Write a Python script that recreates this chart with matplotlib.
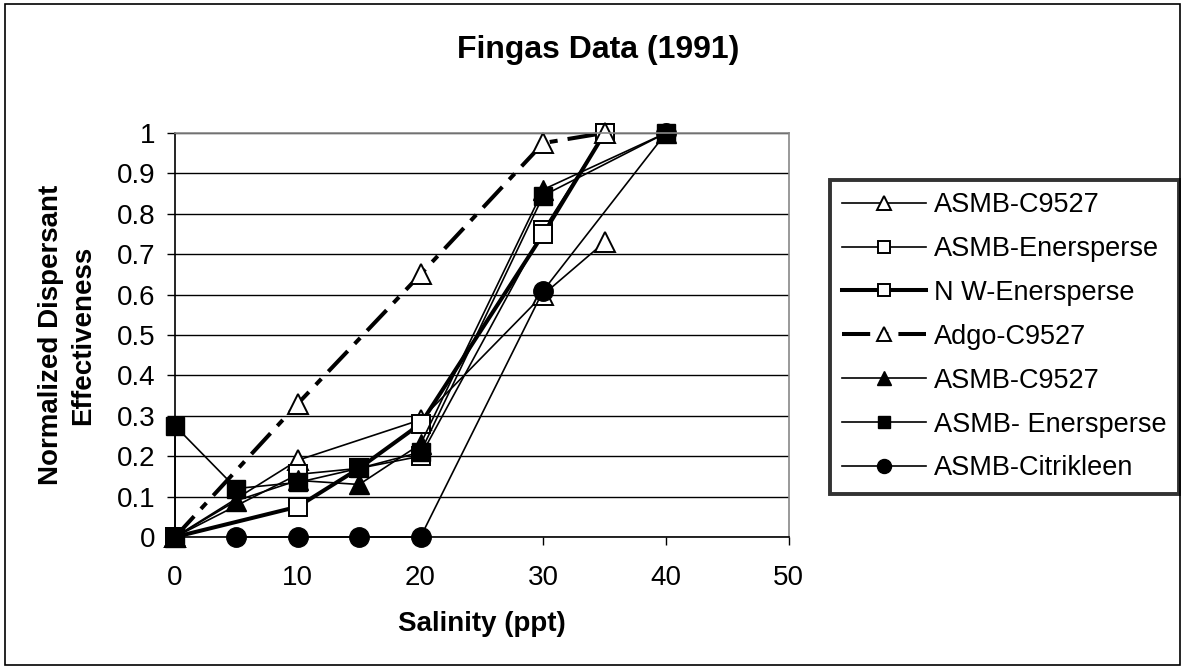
import matplotlib
matplotlib.use("Agg")
import matplotlib.pyplot as plt
from matplotlib.patches import Rectangle

plt.rcParams['font.family'] = ['Liberation Sans', 'DejaVu Sans']

# salinity (ppt) and normalized effectiveness, one list pair per series
x_asmb_c9527 = [0, 10, 20, 30, 35]
y_asmb_c9527 = [0, 0.19, 0.29, 0.60, 0.73]

x_asmb_ener = [0, 10, 15, 20, 30, 35]
y_asmb_ener = [0, 0.155, 0.17, 0.20, 0.76, 1.0]

x_nw_ener = [0, 10, 15, 20, 30, 35]
y_nw_ener = [0, 0.075, 0.17, 0.28, 0.75, 1.0]

x_adgo = [0, 10, 20, 30, 35]
y_adgo = [0, 0.33, 0.65, 0.975, 1.0]

x_asmb_c9527_b = [0, 5, 10, 15, 20, 30, 40]
y_asmb_c9527_b = [0, 0.09, 0.14, 0.13, 0.23, 0.86, 1.0]

x_asmb_ener_b = [0, 0, 5, 10, 15, 20, 30, 40]
y_asmb_ener_b = [0, 0.275, 0.12, 0.135, 0.17, 0.21, 0.845, 1.0]

x_citri = [5, 10, 15, 20, 30, 40]
y_citri = [0, 0, 0, 0, 0.61, 1.0]

labels = ['ASMB-C9527', 'ASMB-Enersperse', 'N W-Enersperse', 'Adgo-C9527',
          'ASMB-C9527', 'ASMB- Enersperse', 'ASMB-Citrikleen']
x_ticks = [0, 10, 20, 30, 40, 50]
y_ticks = [0, 0.1, 0.2, 0.3, 0.4, 0.5, 0.6, 0.7, 0.8, 0.9, 1]
y_tick_labels = ['0', '0.1', '0.2', '0.3', '0.4', '0.5', '0.6', '0.7', '0.8', '0.9', '1']

fig = plt.figure(figsize=(11.85, 6.69), dpi=100)
ax = fig.add_axes([0.1477, 0.1973, 0.518, 0.604])

ms_tri = 14.5
ms_sq = 12.5
ms_dot = 14
thin = 1.2
thick = 2.9
l1, = ax.plot(x_asmb_c9527, y_asmb_c9527, color='black', lw=thin, marker='^',
              mfc='white', mec='black', mew=1.4, ms=ms_tri, clip_on=False)
l2, = ax.plot(x_asmb_ener, y_asmb_ener, color='black', lw=thin, marker='s',
              mfc='white', mec='black', mew=1.4, ms=ms_sq, clip_on=False)
l3, = ax.plot(x_nw_ener, y_nw_ener, color='black', lw=thick, marker='s',
              mfc='white', mec='black', mew=1.4, ms=ms_sq, clip_on=False)
l4, = ax.plot(x_adgo, y_adgo, color='black', lw=thick, marker='^',
              mfc='white', mec='black', mew=1.4, ms=ms_tri, clip_on=False,
              dashes=(7, 2.5, 2, 2.5))
l5, = ax.plot(x_asmb_c9527_b, y_asmb_c9527_b, color='black', lw=thin, marker='^',
              mfc='black', mec='black', ms=ms_tri, clip_on=False)
l7, = ax.plot(x_citri, y_citri, color='black', lw=thin, marker='o',
              mfc='black', mec='black', ms=ms_dot, clip_on=False)
# filled squares sit on top of the other markers
l6, = ax.plot(x_asmb_ener_b, y_asmb_ener_b, color='black', lw=thin, marker='s',
              mfc='black', mec='black', ms=ms_sq, clip_on=False)

ax.set_xlim(0, 50)
ax.set_ylim(0, 1)
ax.set_xticks(x_ticks)
ax.set_yticks(y_ticks)
ax.set_yticklabels(y_tick_labels)
ax.tick_params(axis='both', labelsize=20, direction='out', length=6,
               width=1, colors='black')
ax.tick_params(axis='x', pad=14)
ax.tick_params(axis='y', pad=8)
ax.yaxis.grid(True, color='black', lw=1)
ax.set_axisbelow(True)
ax.spines['left'].set_color('black')
ax.spines['bottom'].set_color('black')
ax.spines['top'].set_color('#888888')
ax.spines['right'].set_color('#888888')
for s in ax.spines.values():
    s.set_linewidth(1.2)

fig.text(0.505, 1 - 50 / 669, 'Fingas Data (1991)', fontsize=23,
         fontweight='bold', ha='center', va='center')
fig.text(482 / 1185, 1 - 624 / 669, 'Salinity (ppt)', fontsize=20,
         fontweight='bold', ha='center', va='center')
fig.text(67 / 1185, 1 - 335 / 669, 'Normalized Dispersant\nEffectiveness',
         fontsize=20, fontweight='bold', ha='center', va='center',
         rotation=90, multialignment='center', linespacing=1.3)

leg = fig.legend([l1, l2, l3, l4, l5, l6, l7], labels, loc='upper left',
                 bbox_to_anchor=(830 / 1185, 1 - 180 / 669), fontsize=19.5,
                 frameon=True, fancybox=False, handlelength=3.1,
                 handletextpad=0.3, labelspacing=0.66, borderpad=0.45,
                 markerscale=0.72, borderaxespad=0)
leg.get_frame().set_edgecolor('black')
leg.get_frame().set_linewidth(2.8)

# outer chart border
fig.patches.append(Rectangle((0.004, 0.006), 0.992, 0.988, transform=fig.transFigure,
                             fill=False, edgecolor='black', lw=1.2))

fig.savefig('out.png', dpi=100)
